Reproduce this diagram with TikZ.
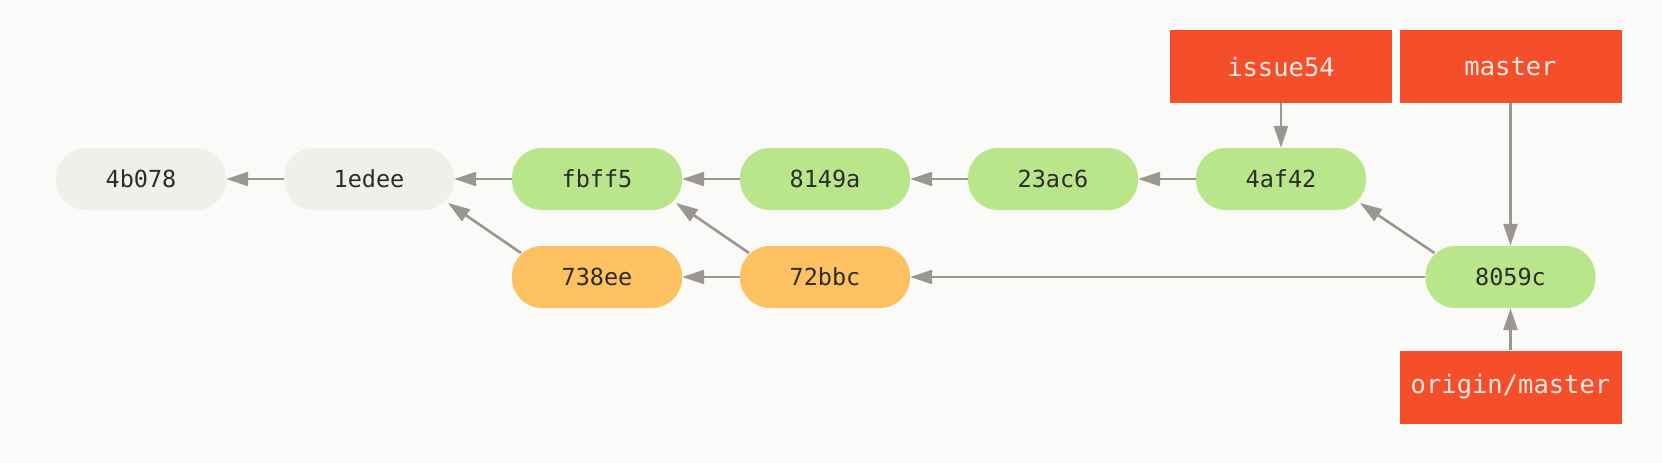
\documentclass[tikz,border=0pt]{standalone}
\usepackage{fontspec}
\setmonofont{DejaVu Sans Mono}
\usetikzlibrary{arrows.meta,calc}
\definecolor{bgc}{RGB}{250,250,248}
\definecolor{grayfill}{RGB}{240,239,233}
\definecolor{greenfill}{RGB}{185,230,138}
\definecolor{orangefill}{RGB}{253,193,98}
\definecolor{reffill}{RGB}{244,78,42}
\definecolor{reftext}{RGB}{250,232,226}
\definecolor{txtc}{RGB}{45,45,40}
\definecolor{edgec}{RGB}{155,150,144}
\newcommand\commitfont{\fontsize{23.5}{28}\selectfont\ttfamily}
\newcommand\reffont{\fontsize{25.5}{30}\selectfont\ttfamily}
\tikzset{
  commit/.style={rounded corners=30pt, minimum width=170pt, minimum height=62pt, inner sep=0pt, font=\commitfont, text=txtc},
  graycommit/.style={commit, fill=grayfill},
  greencommit/.style={commit, fill=greenfill},
  orangecommit/.style={commit, fill=orangefill},
  refbox/.style={fill=reffill, minimum width=222pt, minimum height=73pt, inner sep=0pt, font=\reffont, text=reftext},
  link/.style={draw=edgec, line width=2.6pt, -{Triangle[length=22pt,width=14pt]}}
}
\begin{document}
\begin{tikzpicture}[x=1pt,y=-1pt]
\fill[bgc] (0,0) rectangle (1662,463);
\useasboundingbox (0,0) rectangle (1662,463);
% top row
\node[graycommit] (c4b078) at (141,179) {4b078};
\node[graycommit] (c1edee) at (369,179) {1edee};
\node[greencommit] (cfbff5) at (597,179) {fbff5};
\node[greencommit] (c8149a) at (825,179) {8149a};
\node[greencommit] (c23ac6) at (1053,179) {23ac6};
\node[greencommit] (c4af42) at (1281,179) {4af42};
% bottom row
\node[orangecommit] (c738ee) at (597,277) {738ee};
\node[orangecommit] (c72bbc) at (825,277) {72bbc};
\node[greencommit] (c8059c) at (1510.5,277) {8059c};
% refs
\node[refbox] (issue) at (1281,66.5) {issue54};
\node[refbox] (master) at (1510.5,66.5) {master};
\node[refbox] (origin) at (1510.5,387) {origin/master};
% edges
\draw[link] (c1edee) -- (c4b078);
\draw[link] (cfbff5) -- (c1edee);
\draw[link] (c8149a) -- (cfbff5);
\draw[link] (c23ac6) -- (c8149a);
\draw[link] (c4af42) -- (c23ac6);
\draw[link] (c72bbc) -- (c738ee);
\draw[link] (c8059c) -- (c72bbc);
\draw[link] ($(c738ee)+(-76,-24)$) -- ($(c1edee)+(79,24)$);
\draw[link] ($(c72bbc)+(-76,-24)$) -- ($(cfbff5)+(79,24)$);
\draw[link] ($(c8059c)+(-76,-24)$) -- ($(c4af42)+(79,24)$);
\draw[link] (issue) -- (c4af42);
\draw[link] (master) -- (c8059c);
\draw[link] (origin) -- (c8059c);
\end{tikzpicture}
\end{document}
